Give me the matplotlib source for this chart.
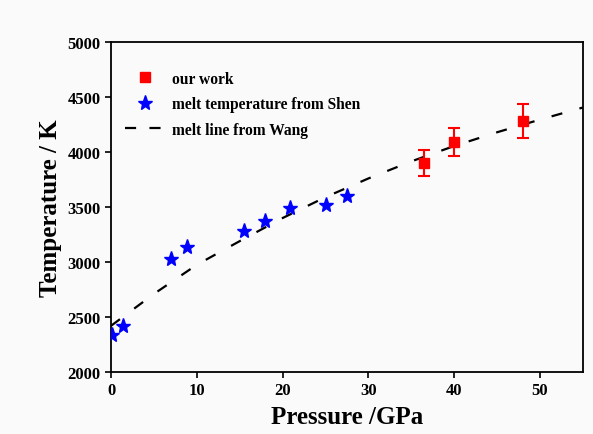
import numpy as np
import matplotlib
matplotlib.use('Agg')
from matplotlib import pyplot as plt
from matplotlib.lines import Line2D

# our work (red squares with error bars)
our_p = [36.5, 40.0, 48.0]
our_t = [3900, 4090, 4285]
our_err = [120, 130, 155]

# melt temperature from Shen (blue stars)
shen_p = [0.1, 1.4, 7.0, 8.9, 15.5, 18.0, 20.9, 25.0, 27.5]
shen_t = [2340, 2420, 3027, 3135, 3285, 3376, 3491, 3523, 3598]

# melt line from Wang (dashed)
wang_p = [0, 5, 10, 15, 20, 25, 30, 35, 40, 45, 50, 55]
wang_t = [2420, 2710, 2975, 3190, 3400, 3590, 3760, 3915, 4055, 4180, 4295, 4405]

xticks = [0, 10, 20, 30, 40, 50]
yticks = [2000, 2500, 3000, 3500, 4000, 4500, 5000]

plt.rcParams['font.family'] = ['Liberation Serif', 'DejaVu Serif']
plt.rcParams['font.weight'] = 'bold'

fig = plt.figure(figsize=(5.93, 4.35), dpi=100)
fig.patch.set_facecolor('#fafafa')
ax = fig.add_axes([0.1872, 0.1425, 0.7958, 0.7585])
ax.set_facecolor('#fafafa')

ax.errorbar(our_p, our_t, yerr=our_err, fmt='s', color='red', ms=7,
            ecolor='red', elinewidth=1.5, capsize=4, capthick=1.5, zorder=4)
ax.plot(shen_p, shen_t, '*', color='blue', ms=11, ls='none', zorder=3)
ax.plot(wang_p, wang_t, color='black', lw=1.6, dashes=[5, 8], zorder=2)

ax.set_xlim(0, 55)
ax.set_ylim(2000, 5000)
ax.set_xticks(xticks)
ax.set_yticks(yticks)
ax.tick_params(direction='out', length=4, width=1.2, labelsize=12)
for lab in ax.get_xticklabels() + ax.get_yticklabels():
    lab.set_fontweight('bold')
for sp in ax.spines.values():
    sp.set_linewidth(1.3)

ax.set_xlabel('Pressure /GPa', fontsize=18, fontweight='bold', labelpad=5)
ax.set_ylabel('Temperature / K', fontsize=18, fontweight='bold', labelpad=4)

handles = [
    Line2D([], [], marker='s', color='red', ms=7, ls='none', label='our work'),
    Line2D([], [], marker='*', color='blue', ms=11, ls='none',
           label='melt temperature from Shen'),
    Line2D([], [], color='black', lw=1.6, dashes=[5, 6],
           label='melt line from Wang'),
]
ax.legend(handles=handles, loc='upper left', bbox_to_anchor=(0.0, 0.955),
          frameon=False, prop={'size': 11.2, 'weight': 'bold'},
          handlelength=2.6, handletextpad=0.4, labelspacing=0.6)

fig.savefig('out.png', dpi=100, facecolor=fig.get_facecolor())
